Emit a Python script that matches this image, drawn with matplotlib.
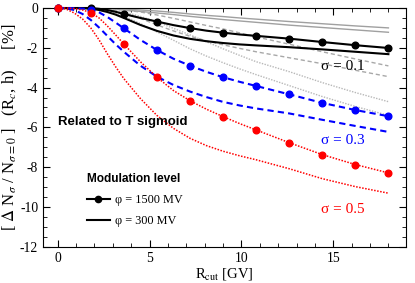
import numpy as np
import matplotlib
matplotlib.use("Agg")
import matplotlib.pyplot as plt
from matplotlib.lines import Line2D
from matplotlib.ticker import MultipleLocator

plt.rcParams["font.family"] = ["Liberation Serif", "DejaVu Serif"]
plt.rcParams["mathtext.fontset"] = "stix"
plt.rcParams["axes.unicode_minus"] = False

# cutoff rigidity grid (GV)
rcut = [0, 0.45, 0.9, 1.35, 1.8, 2.25, 2.7, 3.15, 3.6, 4.5, 5.4, 6.3, 7.2, 8.1,
        9.0, 9.9, 10.8, 12.6, 14.4, 16.2, 18.0]
mark_idx = [0, 4, 8, 10, 12, 14, 16, 17, 18, 19, 20]

# related to T sigmoid, phi = 1500 MV (with markers)
s01_1500 = [0, 0, 0, 0, 0, -0.04, -0.1, -0.19, -0.3, -0.5, -0.68, -0.86, -1.01, -1.14,
            -1.24, -1.33, -1.4, -1.54, -1.71, -1.87, -2.01]
s03_1500 = [0, 0, -0.01, -0.03, -0.08, -0.22, -0.45, -0.73, -1.02, -1.6, -2.11, -2.55, -2.9, -3.21,
            -3.48, -3.71, -3.92, -4.34, -4.77, -5.13, -5.44]
s05_1500 = [0, 0, -0.03, -0.1, -0.23, -0.5, -0.9, -1.35, -1.81, -2.7, -3.48, -4.15, -4.66, -5.09,
            -5.46, -5.81, -6.13, -6.77, -7.37, -7.87, -8.29]

# related to T sigmoid, phi = 300 MV
s01_300 = [0, 0, 0, -0.01, -0.03, -0.1, -0.2, -0.33, -0.5, -0.85, -1.15, -1.38, -1.55, -1.67,
           -1.76, -1.83, -1.88, -1.97, -2.08, -2.2, -2.32]
s03_300 = [0, -0.02, -0.1, -0.3, -0.6, -0.98, -1.4, -1.82, -2.2, -2.9, -3.45, -3.87, -4.2, -4.48,
           -4.72, -4.9, -5.05, -5.3, -5.62, -5.93, -6.23]
s05_300 = [0, -0.05, -0.25, -0.55, -1.0, -1.6, -2.3, -2.95, -3.55, -4.55, -5.4, -6.05, -6.55, -6.92,
           -7.2, -7.43, -7.63, -8.08, -8.58, -8.98, -9.31]

# grey reference curves
grey_solid = [
    [0, 0, 0, 0, 0, 0, -0.01, -0.03, -0.05, -0.1, -0.15, -0.22, -0.3, -0.37, -0.43, -0.5,
     -0.56, -0.68, -0.79, -0.9, -1.0],
    [0, 0, 0, 0, 0, -0.01, -0.03, -0.06, -0.1, -0.17, -0.25, -0.33, -0.42, -0.5, -0.58, -0.65,
     -0.72, -0.86, -0.98, -1.1, -1.22],
]
grey_dashed = [
    [0, 0, 0, 0, 0, -0.01, -0.03, -0.06, -0.1, -0.2, -0.35, -0.52, -0.7, -0.88, -1.05, -1.25,
     -1.45, -1.82, -2.2, -2.56, -2.91],
    [0, 0, 0, 0, 0, -0.03, -0.08, -0.15, -0.25, -0.52, -0.85, -1.15, -1.42, -1.65, -1.85, -2.03,
     -2.2, -2.5, -2.8, -3.13, -3.45],
]
grey_dotted = [
    [0, 0, 0, 0, 0, -0.02, -0.05, -0.11, -0.2, -0.42, -0.7, -1.02, -1.35, -1.7, -2.05, -2.38,
     -2.7, -3.2, -3.75, -4.25, -4.71],
    [0, 0, 0, 0, -0.02, -0.07, -0.15, -0.26, -0.4, -0.78, -1.2, -1.62, -2.05, -2.42, -2.75, -3.06,
     -3.35, -3.9, -4.45, -4.95, -5.4],
]

sigma_labels = ["σ = 0.1", "σ = 0.3", "σ = 0.5"]
colors = ["black", "blue", "red"]

fig = plt.figure(figsize=(4.15, 2.83), dpi=100)
ax = fig.add_axes([0.1036, 0.1283, 0.8744, 0.8434])

for y in grey_solid:
    ax.plot(rcut, y, color="#a0a0a0", lw=1.0, ls="-")
for y in grey_dashed:
    ax.plot(rcut, y, color="#a8a8a8", lw=1.0, ls=(0, (3, 2)))
for y in grey_dotted:
    ax.plot(rcut, y, color="#b8b8b8", lw=1.0, ls=(0, (1, 1)))

styles = ["-", (0, (3, 2)), (0, (1, 1))]
widths = [1.5, 1.5, 1.1]
for y, c, ls, lw in zip([s01_300, s03_300, s05_300], colors, styles, widths):
    ax.plot(rcut, y, color=c, ls=ls, lw=lw)
for y, c, ls, lw in zip([s01_1500, s03_1500, s05_1500], colors, styles, widths):
    ax.plot(rcut, y, color=c, ls=ls, lw=lw, marker="o", ms=4.8,
            markevery=mark_idx, clip_on=False, zorder=5)

ax.text(14.35, -2.96, sigma_labels[0], color="black", fontsize=11, va="center")
ax.text(14.35, -6.67, sigma_labels[1], color="blue", fontsize=11, va="center")
ax.text(14.35, -10.15, sigma_labels[2], color="red", fontsize=11, va="center")

ax.text(0.0, -5.74, "Related to T sigmoid", family="Liberation Sans",
        fontweight="bold", fontsize=9.5, va="center")

handles = [Line2D([], [], color="black", lw=1.5, marker="o", ms=4.5),
           Line2D([], [], color="black", lw=1.5)]
leg = ax.legend(handles, ["φ = 1500 MV", "φ = 300 MV"], loc="upper left",
                bbox_to_anchor=(0.09, 0.355), frameon=False, fontsize=8.8,
                title="Modulation level", handlelength=1.9, handletextpad=0.4,
                labelspacing=0.75, alignment="left",
                title_fontproperties={"family": "Liberation Sans", "weight": "bold", "size": 8.6})

ax.set_xlim(-0.8, 18.95)
ax.set_ylim(-12, 0)
ax.xaxis.set_major_locator(MultipleLocator(5))
ax.xaxis.set_minor_locator(MultipleLocator(1))
ax.yaxis.set_major_locator(MultipleLocator(2))
ax.yaxis.set_minor_locator(MultipleLocator(0.5))
ax.tick_params(which="both", direction="in", top=True, right=True, labelsize=9.8)
ax.tick_params(which="major", length=5)
ax.tick_params(which="minor", length=3)

ax.set_xlabel(r"R$_{\rm cut}$ [GV]", fontsize=10.5, labelpad=1)
ax.set_ylabel(r"[ $\Delta$ N$_\sigma$ / N$_{\sigma=0}$ ]   (R$_c$, h)     [%]", fontsize=12)
ax.yaxis.set_label_coords(-0.064, 0.5)

fig.savefig("out.png", dpi=100)
